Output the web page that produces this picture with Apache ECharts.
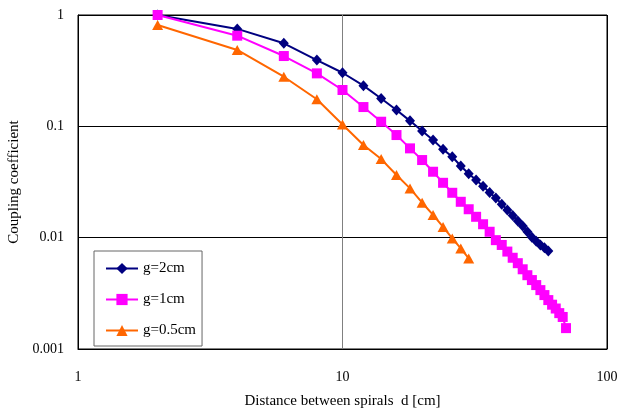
<!DOCTYPE html>
<html>
<head>
<meta charset="utf-8">
<script src="https://cdn.jsdelivr.net/npm/echarts@6/dist/echarts.min.js"></script>
<style>html,body{margin:0;padding:0;background:#fff}#c{width:617px;height:412px}</style>
</head>
<body>
<div id="c"></div>
<script>
const seriesNames = ['g=2cm', 'g=1cm', 'g=0.5cm'];
const d2 = [2,4,6,8,10,12,14,16,18,20,22,24,26,28,30,32,34,36,38,40,42,44,46,48,50,52,54,56,58,60];
const k2 = [1.0,0.75,0.557,0.394,0.303,0.232,0.178,0.140,0.112,0.0907,0.0753,0.0621,0.0533,0.044,0.0375,0.0330,0.0290,0.0255,0.0227,0.0200,0.0177,0.0158,0.0141,0.0127,0.0113,0.0101,0.0093,0.0086,0.0081,0.0076];
const d1 = [2,4,6,8,10,12,14,16,18,20,22,24,26,28,30,32,34,36,38,40,42,44,46,48,50,52,54,56,58,60,62,64,66,68,70];
const k1 = [1.0,0.652,0.428,0.299,0.212,0.149,0.110,0.0835,0.0634,0.0498,0.0391,0.0311,0.0253,0.0210,0.0180,0.0154,0.0132,0.0113,0.0095,0.0086,0.0075,0.0066,0.0059,0.0052,0.0046,0.00416,0.00375,0.00338,0.00305,0.00275,0.0025,0.00231,0.0021,0.00194,0.00154];
const d05 = [2,4,6,8,10,12,14,16,18,20,22,24,26,28,30];
const k05 = [0.813,0.485,0.279,0.175,0.104,0.068,0.0508,0.0365,0.0277,0.0206,0.0160,0.0125,0.00985,0.0080,0.00651];
const xTicks = [1, 10, 100];
const yTicks = [0.001, 0.01, 0.1, 1];

const zip = (xs, ys) => xs.map((x, i) => [x, ys[i]]);
const font = 'Liberation Serif, Times New Roman, serif';
const chart = echarts.init(document.getElementById('c'), null, {renderer: 'canvas'});

function fmt(v) {
  const t = [...xTicks, ...yTicks].find(a => Math.abs(a - v) / a < 1e-6);
  return t !== undefined ? String(t) : '';
}

chart.setOption({
  animation: false,
  backgroundColor: '#fff',
  textStyle: {fontFamily: font},
  grid: {left: 78, top: 15, right: 10, bottom: 63, show: true, borderColor: '#000', borderWidth: 1,
         containLabel: false, outerBoundsMode: 'none'},
  xAxis: {
    type: 'log', logBase: 10, min: 1, max: 100,
    name: 'Distance between spirals  d [cm]', nameLocation: 'middle', nameGap: 45,
    nameTextStyle: {fontFamily: font, fontSize: 15, color: '#000'},
    axisLine: {show: true, lineStyle: {color: '#000', width: 1}},
    axisTick: {show: false},
    minorTick: {show: false},
    axisLabel: {fontFamily: font, fontSize: 14, color: '#000', margin: 21, formatter: fmt, hideOverlap: false},
    splitLine: {show: true, lineStyle: {color: ['#000', '#808080', '#000'], width: 1}}
  },
  yAxis: {
    type: 'log', logBase: 10, min: 0.001, max: 1,
    name: 'Coupling coefficient', nameLocation: 'middle', nameGap: 55, nameRotate: 90,
    nameTextStyle: {fontFamily: font, fontSize: 15, color: '#000'},
    axisLine: {show: true, lineStyle: {color: '#000', width: 1}},
    axisTick: {show: false},
    axisLabel: {fontFamily: font, fontSize: 14, color: '#000', margin: 14, formatter: fmt},
    splitLine: {show: true, lineStyle: {color: '#000', width: 1}}
  },
  legend: {
    orient: 'vertical', left: 94, top: 251,
    padding: [10, 6, 8, 11], itemGap: 16, itemWidth: 32, itemHeight: 14,
    borderColor: '#666', borderWidth: 1, backgroundColor: '#fff',
    textStyle: {fontFamily: font, fontSize: 15, color: '#000'},
    data: seriesNames
  },
  series: [
    {name: seriesNames[0], type: 'line', data: zip(d2, k2), symbol: 'diamond', symbolSize: [10, 11],
     color: '#000080', lineStyle: {width: 2, color: '#000080'}, itemStyle: {color: '#000080'}},
    {name: seriesNames[1], type: 'line', data: zip(d1, k1), symbol: 'rect', symbolSize: 10,
     color: '#FF00FF', lineStyle: {width: 2, color: '#FF00FF'}, itemStyle: {color: '#FF00FF'}},
    {name: seriesNames[2], type: 'line', data: zip(d05, k05), symbol: 'triangle', symbolSize: [11, 10],
     color: '#FF6600', lineStyle: {width: 2, color: '#FF6600'}, itemStyle: {color: '#FF6600'}}
  ]
});
</script>
</body>
</html>
